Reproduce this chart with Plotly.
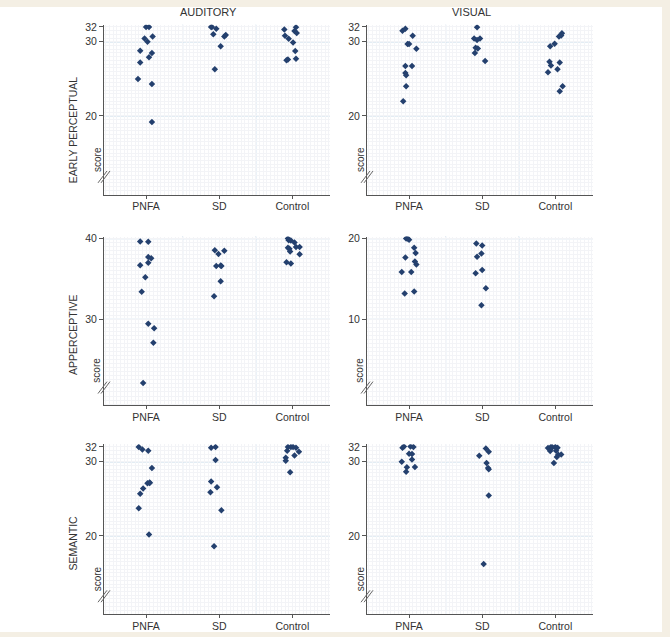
import plotly.graph_objects as go

W, H = 670, 637

groups = ["PNFA", "SD", "Control"]

# AUDITORY / EARLY PERCEPTUAL  (values + horizontal jitter)
aud_early_pnfa = [32.0, 32.0, 30.45, 30.7, 30.0, 28.8, 28.5, 27.9, 27.2, 25.0, 24.3, 19.2]
aud_early_pnfa_jit = [0.0, 0.04, -0.02, 0.09, 0.02, -0.08, 0.08, 0.04, -0.08, -0.11, 0.08, 0.08]
aud_early_sd = [32.0, 32.0, 31.75, 31.0, 30.7, 30.9, 29.4, 26.3]
aud_early_sd_jit = [-0.11, -0.10, -0.04, -0.08, 0.07, 0.09, 0.02, -0.06]
aud_early_ctrl = [31.65, 31.95, 31.45, 31.2, 30.8, 30.4, 29.9, 28.75, 27.6, 27.5, 27.7]
aud_early_ctrl_jit = [-0.11, 0.05, 0.03, 0.06, -0.10, -0.05, 0.01, 0.04, -0.06, -0.08, 0.05]

# VISUAL / EARLY PERCEPTUAL
vis_early_pnfa = [31.5, 31.75, 30.8, 29.7, 29.7, 29.05, 26.75, 26.75, 25.8, 25.5, 24.0, 22.0]
vis_early_pnfa_jit = [-0.09, -0.05, 0.05, -0.02, 0.0, 0.10, -0.05, 0.04, -0.05, -0.04, -0.04, -0.08]
vis_early_sd = [31.95, 30.45, 30.25, 30.45, 29.2, 29.1, 28.5, 27.4]
vis_early_sd_jit = [-0.07, -0.11, -0.07, -0.03, -0.09, -0.06, -0.10, 0.04]
vis_early_ctrl = [31.15, 30.7, 30.85, 29.75, 29.4, 27.3, 26.8, 27.2, 26.3, 25.9, 24.0, 23.35]
vis_early_ctrl_jit = [0.09, 0.05, 0.08, -0.01, -0.07, -0.08, -0.06, 0.06, 0.03, -0.10, 0.10, 0.06]

# AUDITORY / APPERCEPTIVE
aud_app_pnfa = [39.65, 39.6, 37.7, 37.55, 37.0, 36.7, 35.2, 33.4, 29.45, 28.9, 27.1, 22.1]
aud_app_pnfa_jit = [-0.08, 0.03, 0.03, 0.07, 0.03, -0.08, -0.01, -0.06, 0.03, 0.11, 0.10, -0.04]
aud_app_sd = [38.55, 38.5, 38.1, 36.6, 36.65, 36.6, 34.7, 32.85]
aud_app_sd_jit = [-0.06, 0.07, -0.01, -0.04, 0.02, 0.03, 0.02, -0.07]
aud_app_ctrl = [40.0, 39.8, 39.75, 39.5, 38.85, 38.75, 38.4, 38.95, 38.95, 38.05, 37.05, 36.9]
aud_app_ctrl_jit = [-0.06, -0.05, -0.02, 0.03, -0.06, -0.04, -0.03, 0.05, 0.10, 0.10, -0.08, -0.02]

# VISUAL / APPERCEPTIVE (no control data)
vis_app_pnfa = [20.0, 20.0, 19.85, 18.85, 18.2, 17.65, 17.15, 16.8, 15.85, 15.85, 13.45, 13.2]
vis_app_pnfa_jit = [-0.04, -0.02, 0.0, 0.07, 0.09, -0.05, 0.08, 0.10, -0.10, 0.03, 0.07, -0.06]
vis_app_sd = [19.4, 19.15, 18.15, 17.75, 16.1, 15.7, 13.85, 11.75]
vis_app_sd_jit = [-0.08, 0.0, -0.01, -0.07, 0.0, -0.09, 0.05, -0.01]
vis_app_ctrl = []
vis_app_ctrl_jit = []

# AUDITORY / SEMANTIC
aud_sem_pnfa = [32.0, 31.65, 31.5, 29.15, 27.1, 27.15, 27.2, 26.4, 25.7, 23.75, 20.2]
aud_sem_pnfa_jit = [-0.10, -0.05, 0.03, 0.08, 0.02, 0.05, 0.05, -0.04, -0.08, -0.10, 0.04]
aud_sem_sd = [31.9, 32.0, 30.25, 27.35, 26.55, 25.9, 23.45, 18.6]
aud_sem_sd_jit = [-0.11, -0.05, -0.05, -0.11, -0.03, -0.12, 0.03, -0.07]
aud_sem_ctrl = [32.0, 32.0, 32.0, 31.9, 31.5, 31.35, 30.85, 30.55, 30.15, 28.6]
aud_sem_ctrl_jit = [-0.06, -0.02, 0.01, 0.05, -0.07, 0.09, 0.03, -0.09, -0.09, -0.03]

# VISUAL / SEMANTIC
vis_sem_pnfa = [31.9, 32.05, 32.05, 32.0, 31.1, 31.05, 30.3, 30.0, 29.25, 28.65, 29.3]
vis_sem_pnfa_jit = [-0.09, -0.07, 0.02, 0.06, 0.0, 0.04, 0.04, -0.10, -0.03, -0.04, 0.08]
vis_sem_sd = [31.8, 31.35, 30.8, 29.85, 29.15, 29.0, 25.45, 16.2]
vis_sem_sd_jit = [0.05, 0.09, -0.04, 0.06, 0.08, 0.09, 0.09, 0.02]
vis_sem_ctrl = [31.85, 32.0, 31.95, 32.0, 31.9, 31.45, 31.5, 30.95, 30.65, 31.0, 29.85]
vis_sem_ctrl_jit = [-0.10, -0.06, -0.04, 0.0, 0.03, -0.07, 0.01, 0.04, 0.02, 0.08, -0.02]

col_titles = ["AUDITORY", "VISUAL"]
row_titles = ["EARLY PERCEPTUAL", "APPERCEPTIVE", "SEMANTIC"]

# (row, col, data per group, y range, tick values, grid values)
panels = [
    (0, 0, [(aud_early_pnfa, aud_early_pnfa_jit), (aud_early_sd, aud_early_sd_jit), (aud_early_ctrl, aud_early_ctrl_jit)],
     [9.38, 32.28], [20, 30, 32], [20, 30]),
    (0, 1, [(vis_early_pnfa, vis_early_pnfa_jit), (vis_early_sd, vis_early_sd_jit), (vis_early_ctrl, vis_early_ctrl_jit)],
     [9.38, 32.28], [20, 30, 32], [20, 30]),
    (1, 0, [(aud_app_pnfa, aud_app_pnfa_jit), (aud_app_sd, aud_app_sd_jit), (aud_app_ctrl, aud_app_ctrl_jit)],
     [19.33, 40.25], [30, 40], [30, 40]),
    (1, 1, [(vis_app_pnfa, vis_app_pnfa_jit), (vis_app_sd, vis_app_sd_jit), (vis_app_ctrl, vis_app_ctrl_jit)],
     [-0.67, 20.25], [10, 20], [10, 20]),
    (2, 0, [(aud_sem_pnfa, aud_sem_pnfa_jit), (aud_sem_sd, aud_sem_sd_jit), (aud_sem_ctrl, aud_sem_ctrl_jit)],
     [9.45, 32.37], [20, 30, 32], [20, 30]),
    (2, 1, [(vis_sem_pnfa, vis_sem_pnfa_jit), (vis_sem_sd, vis_sem_sd_jit), (vis_sem_ctrl, vis_sem_ctrl_jit)],
     [9.45, 32.37], [20, 30, 32], [20, 30]),
]

# pixel layout of the plot areas
col_px = [(104, 330), (367, 593)]
row_px = [(21, 192), (234, 404), (443, 614)]

FONT = "Liberation Sans, Arial, sans-serif"
DOT = "#24406e"
GRID = "#c8dbea"
FINE = "#f3f4f7"
AXIS = "#555555"
TXT = "#333333"


def px(x):
    return x / W


def py(y):
    return 1 - y / H


fig = go.Figure()
shapes = []
annotations = []

# beige frame around a white page
shapes.append(dict(type="rect", xref="paper", yref="paper", x0=0, x1=px(662), y0=py(632), y1=py(3),
                   fillcolor="white", line=dict(width=0), layer="below"))

for i, (r, c, data, yr, ytv, ygrid) in enumerate(panels):
    n = "" if i == 0 else str(i + 1)
    xa, ya = "x" + n, "y" + n
    for g, (vals, jit) in enumerate(data):
        if not vals:
            continue
        fig.add_trace(go.Scatter(
            x=[g + j for j in jit], y=vals, mode="markers",
            marker=dict(symbol="diamond", size=5, color=DOT, line=dict(width=0)),
            xaxis=xa, yaxis=ya, showlegend=False, hoverinfo="y",
        ))
    x0, x1 = col_px[c]
    y0, y1 = row_px[r]
    fig.layout["xaxis" + n] = dict(
        domain=[px(x0), px(x1)], anchor=ya, range=[-0.575, 2.515],
        tickmode="array", tickvals=[0, 1, 2], ticktext=groups,
        showgrid=False, zeroline=False, showline=True, linecolor=AXIS, linewidth=1,
        ticks="outside", ticklen=3, tickcolor=AXIS, ticklabelstandoff=-1,
        tickfont=dict(family=FONT, size=10.5, color=TXT),
        minor=dict(tick0=0, dtick=0.05, showgrid=True, gridcolor=FINE, gridwidth=0.5, ticks=""),
        fixedrange=True,
    )
    fig.layout["yaxis" + n] = dict(
        domain=[py(y1), py(y0)], anchor=xa, range=yr,
        tickmode="array", tickvals=ytv,
        showgrid=False, zeroline=False, showline=True, linecolor=AXIS, linewidth=1,
        ticks="outside", ticklen=4, tickcolor=AXIS,
        tickfont=dict(family=FONT, size=10.5, color=TXT),
        minor=dict(tick0=0, dtick=0.5, showgrid=True, gridcolor=FINE, gridwidth=0.5, ticks=""),
        fixedrange=True,
    )
    # major grid: group dividers and the labelled score levels (under the transparent plot bg)
    for xv in [0.5, 1.5]:
        shapes.append(dict(type="line", xref=xa, yref="paper", x0=xv, x1=xv, y0=py(y1), y1=py(y0),
                           line=dict(color=GRID, width=1.2), layer="below"))
    for yv in ygrid:
        shapes.append(dict(type="line", xref="paper", yref=ya, x0=px(x0), x1=px(x1), y0=yv, y1=yv,
                           line=dict(color=GRID, width=1.2), layer="below"))
    # axis break marks
    yb = y1 - 18
    for dx in [0, 3]:
        shapes.append(dict(type="line", xref="paper", yref="paper",
                           x0=px(x0 - 6 + dx), y0=py(yb + 6), x1=px(x0 + 3 + dx), y1=py(yb - 6),
                           line=dict(color="#666", width=1)))
    # "score" axis title sits low on the axis
    annotations.append(dict(text="score", xref="paper", yref="paper", x=px(x0 - 7), y=py(y1 - 35),
                            textangle=-90, showarrow=False, xanchor="center", yanchor="middle",
                            font=dict(family=FONT, size=10, color=TXT)))

for c, t in enumerate(col_titles):
    annotations.append(dict(text=t, xref="paper", yref="paper", x=px([208, 472][c]), y=py(8),
                            showarrow=False, xanchor="center", yanchor="middle",
                            font=dict(family=FONT, size=11, color=TXT)))
for r, t in enumerate(row_titles):
    annotations.append(dict(text=t, xref="paper", yref="paper", x=px(73), y=py([127, 333, 543][r]),
                            textangle=-90, showarrow=False, xanchor="center", yanchor="middle",
                            font=dict(family=FONT, size=10.5, color=TXT)))

fig.update_layout(
    width=W, height=H, margin=dict(l=0, r=0, t=0, b=0),
    paper_bgcolor="#f4efe4", plot_bgcolor="rgba(0,0,0,0)",
    shapes=shapes, annotations=annotations, showlegend=False,
    font=dict(family=FONT),
)

# pin the graph to the window's top-left corner (the page has default margins)
pin = ("document.body.style.margin='0px';"
       "var gd=document.getElementById('{plot_id}');"
       "gd.style.position='absolute';gd.style.top='0px';gd.style.left='0px';")
fig.write_html("out.html", config={"displayModeBar": False}, post_script=pin)
